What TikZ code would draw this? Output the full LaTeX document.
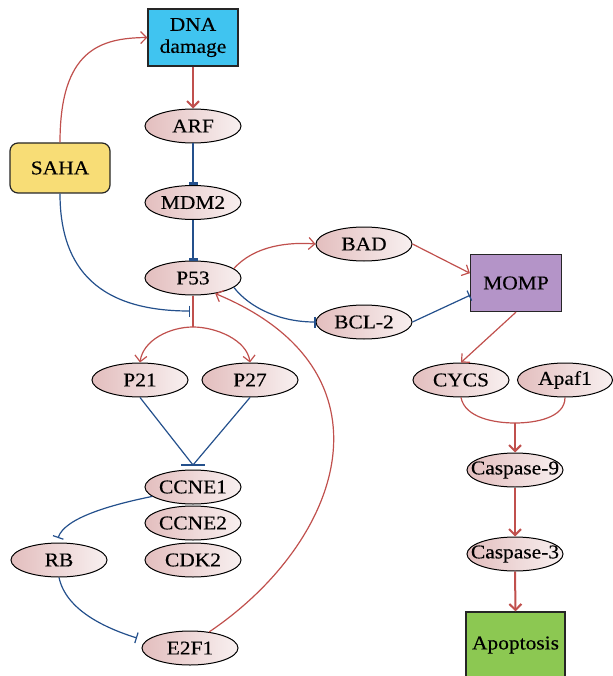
\documentclass[tikz,border=0pt]{standalone}
\usepackage{fontspec}
\setmainfont[FakeStretch=1.1,FakeBold=0.3]{Liberation Serif}
\usetikzlibrary{shapes.geometric,arrows.meta}
\definecolor{redl}{HTML}{C0504D}
\definecolor{bluel}{HTML}{24508C}
\definecolor{pinkL}{HTML}{E3BEBE}
\definecolor{pinkR}{HTML}{F8F0F0}
\definecolor{cyanc}{HTML}{40C4F0}
\definecolor{sahac}{HTML}{F8DD76}
\definecolor{mompc}{HTML}{B494C8}
\definecolor{apopc}{HTML}{8CC852}
\newcommand\zb[1]{\makebox[0pt]{#1}}
\begin{document}
\begin{tikzpicture}[x=1pt,y=1pt,
  txt/.style={font=\fontsize{19.5}{22}\selectfont, text=black},
  ell/.style={txt, ellipse, draw=black, line width=1pt, left color=pinkL, right color=pinkR, minimum width=96, minimum height=34, inner sep=0pt},
  boxn/.style={txt, rectangle, draw=black!85, line width=1.2pt, align=center, inner sep=0pt},
  act/.style={draw=redl, line width=1.2pt, -{Straight Barb[length=6pt,width=12pt]}},
  actthick/.style={act, line width=2pt},
  redline/.style={draw=redl, line width=1.2pt},
  inh/.style={draw=bluel, line width=1.2pt, -{Bar[width=11pt]}},
  inhthick/.style={draw=bluel, line width=2.6pt, -{Bar[width=9pt]}},
  blueline/.style={draw=bluel, line width=1.2pt}
]
\useasboundingbox (0,0) rectangle (612,-676);
% nodes
\node[boxn, fill=cyanc, minimum width=90, minimum height=57] (dna) at (193,-37.5) {DNA\\damage};
\node[ell] (arf) at (193,-126) {\zb{ARF}};
\node[ell] (mdm2) at (193,-202.5) {\zb{MDM2}};
\node[ell] (p53) at (193,-278) {\zb{P53}};
\node[boxn, fill=sahac, rounded corners=8pt, minimum width=100, minimum height=50] (saha) at (60,-168) {SAHA};
\node[ell] (bad) at (364,-244) {\zb{BAD}};
\node[ell] (bcl) at (364,-322) {\zb{BCL-2}};
\node[boxn, fill=mompc, minimum width=91, minimum height=57] (momp) at (516,-283) {MOMP};
\node[ell] (cycs) at (461,-380) {\zb{CYCS}};
\node[ell, minimum width=95] (apaf) at (565,-380) {\zb{Apaf1}};
\node[ell] (p21) at (140,-380) {\zb{P21}};
\node[ell] (p27) at (250,-380) {\zb{P27}};
\node[ell] (ccne1) at (193,-487) {\zb{CCNE1}};
\node[ell] (ccne2) at (193,-523) {\zb{CCNE2}};
\node[ell] (cdk2) at (193,-560) {\zb{CDK2}};
\node[ell] (rb) at (59,-560) {\zb{RB}};
\node[ell] (e2f1) at (190,-648) {\zb{E2F1}};
\node[ell] (casp9) at (515,-470) {\zb{Caspase-9}};
\node[ell] (casp3) at (515,-554) {\zb{Caspase-3}};
\node[boxn, fill=apopc, minimum width=99, minimum height=66] (apop) at (515.5,-645) {Apoptosis};
% coordinates
\coordinate (sahabar) at (190,-311);
\coordinate (split) at (193,-327);
\coordinate (barc) at (193,-465);
\coordinate (barl) at (181,-465);
\coordinate (barr) at (205,-465);
\coordinate (junc) at (515,-423);
\coordinate (rbbar) at (58,-538);
\coordinate (e2fbar) at (137,-638);
% connectors
\draw[act] (saha.north) .. controls (60,-50) and (100,-38) .. (dna.west);
\draw[actthick] (dna.south) -- (arf.north);
\draw[inhthick] (arf.south) -- (mdm2.north);
\draw[inhthick] (mdm2.south) -- (p53.north);
\draw[inh] (saha.south) .. controls (60,-260) and (90,-311) .. (sahabar);
\draw[redline] (p53.south) -- (split);
\draw[act] (split) .. controls (170,-327) and (143,-340) .. (p21.north);
\draw[act] (split) .. controls (216,-327) and (247,-340) .. (p27.north);
\draw[act] (p53.13) .. controls (255,-245) and (290,-242) .. (bad.west);
\draw[inh] (p53.-13) .. controls (250,-308) and (280,-322) .. (bcl.west);
\draw[act] (bad.east) -- (momp.168);
\draw[inh] (bcl.east) -- (momp.-165);
\draw[act] (momp.south) -- (cycs.north);
\draw[redline] (cycs.south) .. controls (465,-418) and (495,-423) .. (junc);
\draw[redline] (apaf.south) .. controls (565,-418) and (535,-423) .. (junc);
\draw[actthick] (junc) -- (casp9.north);
\draw[actthick] (casp9.south) -- (casp3.north);
\draw[actthick] (casp3.south) -- (apop.north);
\draw[blueline] (p21.south) -- (barc);
\draw[blueline] (p27.south) -- (barc);
\draw[draw=bluel, line width=2.6pt] (barl) -- (barr);
\draw[inh] (ccne1.193) .. controls (110,-505) and (65,-518) .. (rbbar);
\draw[inh] (rb.south) .. controls (66,-610) and (105,-628) .. (e2fbar);
\draw[act] (e2f1.40) .. controls (345,-540) and (400,-370) .. (p53.-35);
\end{tikzpicture}
\end{document}
